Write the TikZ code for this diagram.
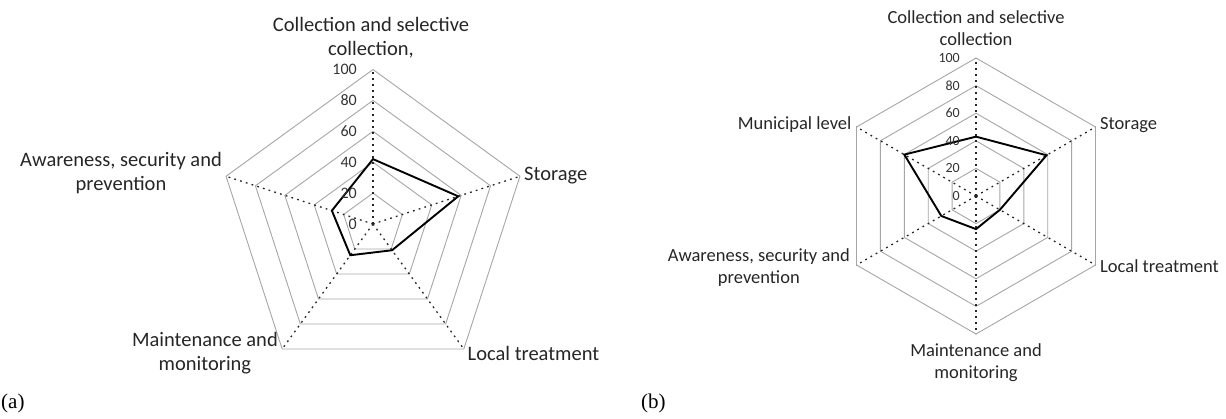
\documentclass[tikz,border=0pt]{standalone}
\usepackage{fontspec}
\setmainfont{Liberation Serif}
\newfontfamily\calfont{Carlito}
\begin{document}
\begin{tikzpicture}[x=1pt,y=1pt,
  ring/.style={draw=black!35, line width=0.9pt, line join=miter},
  spoke/.style={draw=black!85, line width=1.3pt, dash pattern=on 1.8pt off 4.2pt},
  series/.style={draw=black, line width=1.9pt, line join=miter},
  catA/.style={font=\calfont\fontsize{20.5}{24}\selectfont, text=black!85, inner sep=0pt},
  catB/.style={font=\calfont\fontsize{18.5}{22}\selectfont, text=black!85, inner sep=0pt},
  tickA/.style={font=\calfont\fontsize{16}{18}\selectfont, text=black!80, anchor=east, inner sep=0pt},
  tickB/.style={font=\calfont\fontsize{14}{16}\selectfont, text=black!80, anchor=east, inner sep=0pt},
  sub/.style={font=\fontsize{21}{24}\selectfont, inner sep=0pt, anchor=base west}]
\useasboundingbox (0,0) rectangle (1226,418);

% ---------------- chart (a) ----------------
\begin{scope}[shift={(373,194)}]
  \foreach \r in {20,40,60,80,100} {
    \draw[ring] (90:{\r*1.545}) -- (18:{\r*1.545}) -- (-54:{\r*1.545})
      -- (-126:{\r*1.545}) -- (162:{\r*1.545}) -- cycle;
  }
  \coordinate (ac) at (0,0);
  \foreach \a/\n in {90/a1,18/a2,-54/a3,-126/a4,162/a5} {
    \coordinate (\n) at (\a:154.5);
    \draw[spoke] (ac) -- (\n);
  }
  \coordinate (d1) at (90:{42*1.545});
  \coordinate (d2) at (18:{58*1.545});
  \coordinate (d3) at (-54:{21*1.545});
  \coordinate (d4) at (-126:{25*1.545});
  \coordinate (d5) at (162:{28*1.545});
  \draw[series] (d1) -- (d2) -- (d3) -- (d4) -- (d5) -- cycle;
  \foreach \r in {0,20,40,60,80,100} {
    \node[tickA] (ta\r) at (-16,{\r*1.545}) {\r};
  }
\end{scope}
\node[catA, anchor=base] (ac1) at (371,386.5) {Collection and selective};
\node[catA, anchor=base] (ac2) at (371,362.5) {collection,};
\node[catA, anchor=base west] (as1) at (524,237) {Storage};
\node[catA, anchor=base east] (aw1) at (222,251) {Awareness, security and};
\node[catA, anchor=base] (aw2) at ([yshift=-24pt]aw1.base) {prevention};
\node[catA, anchor=base east] (am1) at (278,71.3) {Maintenance and};
\node[catA, anchor=base] (am2) at ([yshift=-24pt]am1.base) {monitoring};
\node[catA, anchor=base west] (al1) at (467.5,58) {Local treatment};
\node[sub] (la) at (1,10) {(a)};

% ---------------- chart (b) ----------------
\begin{scope}[shift={(976,222)}]
  \foreach \r in {20,40,60,80,100} {
    \draw[ring] (90:{\r*1.38}) -- (30:{\r*1.38}) -- (-30:{\r*1.38})
      -- (-90:{\r*1.38}) -- (-150:{\r*1.38}) -- (150:{\r*1.38}) -- cycle;
  }
  \coordinate (bc) at (0,0);
  \foreach \a/\n in {90/b1,30/b2,-30/b3,-90/b4,-150/b5,150/b6} {
    \coordinate (\n) at (\a:138);
    \draw[spoke] (bc) -- (\n);
  }
  \coordinate (e1) at (90:{43*1.38});
  \coordinate (e2) at (30:{59*1.38});
  \coordinate (e3) at (-30:{20*1.38});
  \coordinate (e4) at (-90:{24*1.38});
  \coordinate (e5) at (-150:{29*1.38});
  \coordinate (e6) at (150:{60*1.38});
  \draw[series] (e1) -- (e2) -- (e3) -- (e4) -- (e5) -- (e6) -- cycle;
  \foreach \r in {0,20,40,60,80,100} {
    \node[tickB] (tb\r) at (-16,{\r*1.38}) {\r};
  }
\end{scope}
\node[catB, anchor=base] (bc1) at (976,394.5) {Collection and selective};
\node[catB, anchor=base] (bc2) at (976,372.5) {collection};
\node[catB, anchor=base west] (bs1) at (1100,288.7) {Storage};
\node[catB, anchor=base east] (bm1) at (851.6,288.7) {Municipal level};
\node[catB, anchor=base west] (bl1) at (1100,145) {Local treatment};
\node[catB, anchor=base east] (bw1) at (850,156.3) {Awareness, security and};
\node[catB, anchor=base] (bw2) at ([yshift=-22pt]bw1.base) {prevention};
\node[catB, anchor=base] (bt1) at (976,61.3) {Maintenance and};
\node[catB, anchor=base] (bt2) at (976,39.3) {monitoring};
\node[sub] (lb) at (641,10) {(b)};
\end{tikzpicture}
\end{document}
